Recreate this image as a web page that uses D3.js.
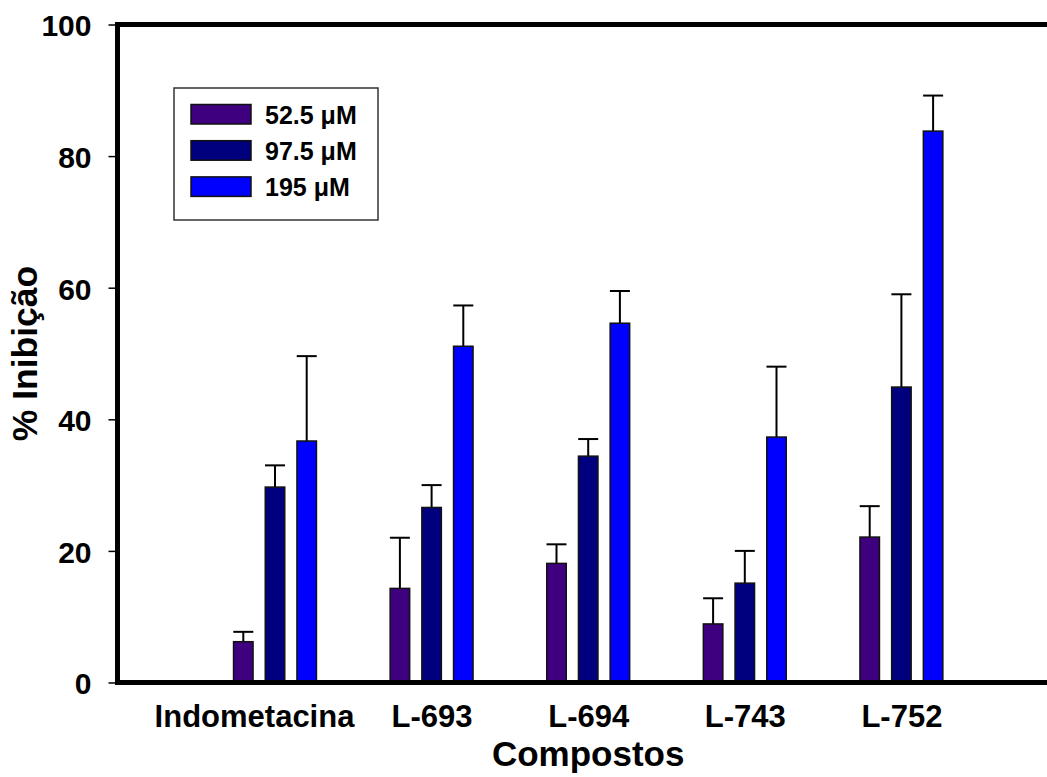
<!DOCTYPE html>
<html>
<head>
<meta charset="utf-8">
<script src="https://cdn.jsdelivr.net/npm/d3@7"></script>
<style>
  html, body { margin: 0; padding: 0; background: #fff; }
  svg { display: block; }
  text { font-family: "Liberation Sans", Arial, sans-serif; font-weight: bold; fill: #000; }
</style>
</head>
<body>
<svg id="chart" width="1047" height="777"></svg>
<script>
// Compounds tested and the three concentrations
const categories = ["Indometacina", "L-693", "L-694", "L-743", "L-752"];
const series = ["52.5 \u03bcM", "97.5 \u03bcM", "195 \u03bcM"];

// Mean % inhibition per compound, one array per concentration
const mean52 = [6.2, 14.3, 18.1, 8.9, 22.1];
const mean97 = [29.7, 26.6, 34.4, 15.1, 44.9];
const mean195 = [36.7, 51.1, 54.6, 37.3, 83.8];

// Upper error (standard deviation) per compound
const sd52 = [1.5, 7.7, 2.9, 3.9, 4.7];
const sd97 = [3.3, 3.4, 2.6, 4.9, 14.1];
const sd195 = [12.9, 6.2, 4.9, 10.7, 5.4];

const yTicks = [0, 20, 40, 60, 80, 100];
const colors = ["#3f007f", "#00007f", "#0000ff"];

const means = [mean52, mean97, mean195];
const sds = [sd52, sd97, sd195];

const svg = d3.select("#chart");

// Category slots 1..5 on a 0..6 axis; the right end runs past the frame
const x = d3.scaleLinear().domain([0, 6]).range([118.4, 1058]);
const y = d3.scaleLinear().domain([0, 100]).range([682.5, 24.5]);
const sub = d3.scalePoint().domain(d3.range(series.length)).range([-31.7, 31.7]);
const barW = 19.5;

// Bars and error bars
const rows = [];
categories.forEach((c, i) => {
  series.forEach((s, k) => {
    rows.push({ cat: i, k, v: means[k][i], e: sds[k][i] });
  });
});

const g = svg.append("g");
rows.forEach(d => {
  const cx = x(d.cat + 1) + sub(d.k);
  const top = y(d.v + d.e);
  g.append("line")
    .attr("x1", cx).attr("x2", cx)
    .attr("y1", y(d.v)).attr("y2", top)
    .attr("stroke", "#000").attr("stroke-width", 2);
  g.append("line")
    .attr("x1", cx - 10).attr("x2", cx + 10)
    .attr("y1", top).attr("y2", top)
    .attr("stroke", "#000").attr("stroke-width", 2);
});
g.selectAll("rect.bar")
  .data(rows)
  .join("rect")
  .attr("class", "bar")
  .attr("x", d => x(d.cat + 1) + sub(d.k) - barW / 2)
  .attr("y", d => y(d.v))
  .attr("width", barW)
  .attr("height", d => y(0) - y(d.v))
  .attr("fill", d => colors[d.k])
  .attr("stroke", "#111")
  .attr("stroke-width", 1.5);

// Frame: top border and baseline
svg.append("line")
  .attr("x1", 115).attr("x2", 1047)
  .attr("y1", 24.5).attr("y2", 24.5)
  .attr("stroke", "#000").attr("stroke-width", 5);
svg.append("line")
  .attr("x1", 115).attr("x2", 1047)
  .attr("y1", y(0)).attr("y2", y(0))
  .attr("stroke", "#000").attr("stroke-width", 5);

// Y axis
const yAxis = svg.append("g")
  .attr("transform", "translate(117.5,0)")
  .call(d3.axisLeft(y).tickValues(yTicks).tickSize(9).tickPadding(17).tickSizeOuter(0));
yAxis.select(".domain").attr("stroke", "#000").attr("stroke-width", 5)
  .attr("d", `M0,${y(100) - 2.5}V${y(0) + 2.5}`);
yAxis.selectAll(".tick line").attr("stroke", "#000").attr("stroke-width", 1.5);
yAxis.selectAll(".tick text")
  .attr("font-size", 30)
  .attr("font-family", "Liberation Sans, Arial, sans-serif")
  .attr("font-weight", "bold")
  .attr("dy", "0.38em");

// X axis category labels
const xAxis = svg.append("g")
  .attr("transform", `translate(0,${y(0)})`)
  .call(d3.axisBottom(x)
    .tickValues(d3.range(1, categories.length + 1))
    .tickFormat(d => categories[d - 1])
    .tickSize(0).tickPadding(0));
xAxis.select(".domain").remove();
xAxis.selectAll(".tick text")
  .attr("font-size", 31)
  .attr("font-family", "Liberation Sans, Arial, sans-serif")
  .attr("font-weight", "bold")
  .attr("y", 44.5)
  .attr("dy", 0)
  .attr("dx", (d, i) => i === 0 ? -21 : 0);

// Axis titles
svg.append("text")
  .attr("x", (x(0) + x(6)) / 2)
  .attr("y", 766)
  .attr("text-anchor", "middle")
  .attr("font-size", 35)
  .text("Compostos");

svg.append("text")
  .attr("transform", `translate(37,${(y(0) + y(100)) / 2}) rotate(-90)`)
  .attr("text-anchor", "middle")
  .attr("font-size", 35.5)
  .text("% Inibição");

// Legend
const legend = svg.append("g");
legend.append("rect")
  .attr("x", 174).attr("y", 88)
  .attr("width", 204).attr("height", 132)
  .attr("fill", "#fff")
  .attr("stroke", "#333").attr("stroke-width", 1.5);
series.forEach((s, k) => {
  const ry = 104.5 + k * 36.2;
  legend.append("rect")
    .attr("x", 191).attr("y", ry)
    .attr("width", 60).attr("height", 19.5)
    .attr("fill", colors[k])
    .attr("stroke", "#111").attr("stroke-width", 1.5);
  legend.append("text")
    .attr("x", 265).attr("y", ry + 19)
    .attr("font-size", 25)
    .text(s);
});
</script>
</body>
</html>
